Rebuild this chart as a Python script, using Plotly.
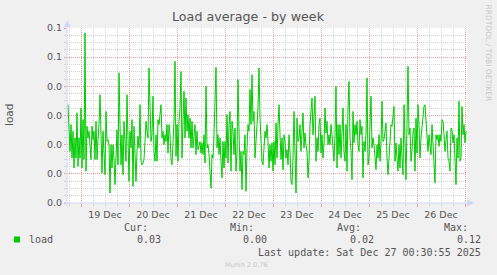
import plotly.graph_objects as go
import pandas as pd

# ---- data (load average, 30-minute samples) ----
load = [
    0.0337, 0.0269, 0.0177, 0.0269, 0.0154, 0.0246, 0.0120, 0.0223, 0.0154, 0.0309,
    0.0126, 0.0223, 0.0154, 0.0326, 0.0120, 0.0286, 0.0149, 0.0583, 0.0109, 0.0263,
    0.0223, 0.0246, 0.0200, 0.0149, 0.0263, 0.0217, 0.0246, 0.0149, 0.0280, 0.0149,
    0.0217, 0.0269, 0.0371, 0.0211, 0.0103, 0.0246, 0.0154, 0.0097, 0.0314, 0.0211,
    0.0217, 0.0200, 0.0034, 0.0200, 0.0120, 0.0200, 0.0154, 0.0063, 0.0154, 0.0251,
    0.0131, 0.0446, 0.0269, 0.0131, 0.0234, 0.0097, 0.0280, 0.0177, 0.0143, 0.0371,
    0.0234, 0.0074, 0.0246, 0.0189, 0.0286, 0.0057, 0.0263, 0.0154, 0.0074, 0.0177,
    0.0229, 0.0189, 0.0337, 0.0143, 0.0131, 0.0137, 0.0149, 0.0211, 0.0280, 0.0246,
    0.0223, 0.0463, 0.0269, 0.0211, 0.0234, 0.0366, 0.0177, 0.0143, 0.0234, 0.0143,
    0.0286, 0.0269, 0.0303, 0.0337, 0.0223, 0.0246, 0.0200, 0.0234, 0.0211, 0.0269,
    0.0171, 0.0269, 0.0234, 0.0149, 0.0131, 0.0234, 0.0280, 0.0486, 0.0160, 0.0269,
    0.0143, 0.0280, 0.0326, 0.0451, 0.0154, 0.0280, 0.0383, 0.0223, 0.0360, 0.0246,
    0.0303, 0.0223, 0.0291, 0.0189, 0.0280, 0.0189, 0.0229, 0.0269, 0.0166, 0.0246,
    0.0183, 0.0200, 0.0211, 0.0171, 0.0206, 0.0166, 0.0234, 0.0137, 0.0400, 0.0189,
    0.0200, 0.0166, 0.0120, 0.0051, 0.0166, 0.0154, 0.0234, 0.0326, 0.0465, 0.0189,
    0.0234, 0.0166, 0.0223, 0.0143, 0.0086, 0.0211, 0.0120, 0.0211, 0.0154, 0.0303,
    0.0137, 0.0269, 0.0314, 0.0109, 0.0280, 0.0246, 0.0166, 0.0257, 0.0109, 0.0177,
    0.0423, 0.0246, 0.0109, 0.0177, 0.0046, 0.0177, 0.0166, 0.0234, 0.0040, 0.0189,
    0.0269, 0.0246, 0.0389, 0.0269, 0.0440, 0.0280, 0.0314, 0.0154, 0.0234, 0.0269,
    0.0326, 0.0463, 0.0291, 0.0183, 0.0143, 0.0131, 0.0200, 0.0246, 0.0223, 0.0269,
    0.0211, 0.0120, 0.0200, 0.0143, 0.0206, 0.0109, 0.0211, 0.0131, 0.0274, 0.0154,
    0.0269, 0.0337, 0.0234, 0.0149, 0.0223, 0.0114, 0.0234, 0.0211, 0.0154, 0.0183,
    0.0131, 0.0234, 0.0177, 0.0074, 0.0063, 0.0154, 0.0314, 0.0109, 0.0034, 0.0291,
    0.0211, 0.0223, 0.0269, 0.0177, 0.0234, 0.0309, 0.0189, 0.0240, 0.0200, 0.0177,
    0.0086, 0.0143, 0.0269, 0.0303, 0.0360, 0.0234, 0.0291, 0.0366, 0.0143, 0.0223,
    0.0177, 0.0269, 0.0291, 0.0171, 0.0234, 0.0154, 0.0200, 0.0326, 0.0240, 0.0280,
    0.0200, 0.0234, 0.0200, 0.0269, 0.0234, 0.0200, 0.0143, 0.0234, 0.0400, 0.0120,
    0.0269, 0.0166, 0.0269, 0.0154, 0.0234, 0.0326, 0.0177, 0.0143, 0.0269, 0.0109,
    0.0326, 0.0417, 0.0223, 0.0177, 0.0080, 0.0314, 0.0206, 0.0269, 0.0234, 0.0280,
    0.0200, 0.0177, 0.0286, 0.0234, 0.0263, 0.0086, 0.0211, 0.0177, 0.0234, 0.0429,
    0.0131, 0.0154, 0.0269, 0.0366, 0.0189, 0.0223, 0.0200, 0.0154, 0.0114, 0.0200,
    0.0154, 0.0234, 0.0143, 0.0211, 0.0349, 0.0211, 0.0217, 0.0246, 0.0274, 0.0154,
    0.0097, 0.0154, 0.0223, 0.0269, 0.0263, 0.0314, 0.0331, 0.0143, 0.0206, 0.0154,
    0.0109, 0.0200, 0.0120, 0.0223, 0.0160, 0.0097, 0.0337, 0.0154, 0.0080, 0.0269,
    0.0469, 0.0234, 0.0257, 0.0143, 0.0177, 0.0240, 0.0257, 0.0109, 0.0291, 0.0171,
    0.0337, 0.0269, 0.0154, 0.0223, 0.0257, 0.0314, 0.0331, 0.0337, 0.0280, 0.0240,
    0.0177, 0.0234, 0.0200, 0.0166, 0.0269, 0.0189, 0.0109, 0.0069, 0.0234, 0.0217,
    0.0234, 0.0194, 0.0234, 0.0211, 0.0286, 0.0280, 0.0234, 0.0177, 0.0217, 0.0246,
    0.0154, 0.0143, 0.0109, 0.0257, 0.0251, 0.0206, 0.0234, 0.0154, 0.0063, 0.0223,
    0.0154, 0.0349, 0.0143, 0.0154, 0.0331, 0.0234, 0.0269, 0.0206, 0.0246,
]
first_sample = "2025-12-18 17:30"
times = pd.date_range(first_sample, periods=len(load), freq="30min")

x_range = ["2025-12-18 17:00", "2025-12-27 01:00"]
y_range = [0, 0.06]
y_tickvals = [0.0, 0.01, 0.02, 0.03, 0.04, 0.05, 0.06]
y_ticktext = ["0.0", "0.0", "0.0", "0.0", "0.0", "0.1", "0.1"]

series_name = "load"
stat_labels = ["Cur:", "Min:", "Avg:", "Max:"]
stat_values = ["0.03", "0.00", "0.02", "0.12"]
last_update = "Last update: Sat Dec 27 00:30:55 2025"

# ---- layout geometry (pixels) ----
W, H = 497, 275
L, R, T, B = 67, 467, 28, 203


def px(x):
    return (x - L) / (R - L)


def py(y):
    return (B - y) / (B - T)


TXT = "#555555"
AXIS = "#CFD6F8"
MGRID = "#EC9C9C"
GRID = "#D2D2D2"
GREEN = "#00CC00"
SANS = "DejaVu Sans"
MONO = "DejaVu Sans Mono"

fig = go.Figure()
fig.add_trace(go.Scatter(
    x=times, y=load, mode="lines",
    line=dict(color=GREEN, width=1),
    showlegend=False, hoverinfo="skip",
))

fig.update_layout(
    width=W, height=H,
    margin=dict(l=L, r=W - R, t=T, b=H - B, pad=0),
    paper_bgcolor="#F0F0F0", plot_bgcolor="#FFFFFF",
    showlegend=False,
    xaxis=dict(
        type="date", range=x_range, fixedrange=True,
        tick0="2025-12-19", dtick=86400000,
        tickformat="%d %b", ticklabelmode="period",
        showgrid=True, gridcolor=MGRID, griddash="1px,1px", gridwidth=1,
        ticks="outside", ticklen=3, tickcolor=MGRID, tickwidth=1,
        minor=dict(dtick=21600000, tick0="2025-12-19", showgrid=True,
                   gridcolor=GRID, griddash="1px,1px", gridwidth=1,
                   ticks="outside", ticklen=2, tickcolor=GRID),
        showline=False, zeroline=False,
        tickfont=dict(family=SANS, size=9.5, color=TXT),
    ),
    yaxis=dict(
        range=y_range, fixedrange=True,
        tickvals=y_tickvals, ticktext=y_ticktext,
        showgrid=True, gridcolor=MGRID, griddash="1px,1px", gridwidth=1,
        ticks="outside", ticklen=2, tickcolor=MGRID, tickwidth=1,
        minor=dict(dtick=0.0025, tick0=0, showgrid=True,
                   gridcolor=GRID, griddash="1px,1px", gridwidth=1,
                   ticks="outside", ticklen=2, tickcolor=GRID),
        showline=False, zeroline=False,
        tickfont=dict(family=SANS, size=9.5, color=TXT),
    ),
)

shapes = []
# axis lines
shapes.append(dict(type="line", xref="paper", yref="paper",
                   x0=px(L), x1=px(L), y0=py(206), y1=py(26),
                   line=dict(color=AXIS, width=1)))
shapes.append(dict(type="line", xref="paper", yref="paper",
                   x0=px(64), x1=px(468), y0=py(B), y1=py(B),
                   line=dict(color=AXIS, width=1)))
# arrows
shapes.append(dict(type="path", xref="paper", yref="paper",
                   path=f"M {px(64)},{py(27)} L {px(70.5)},{py(27)} L {px(67.2)},{py(20)} Z",
                   fillcolor=AXIS, line=dict(color=AXIS, width=0)))
shapes.append(dict(type="path", xref="paper", yref="paper",
                   path=f"M {px(467)},{py(199.5)} L {px(467)},{py(206.5)} L {px(474)},{py(203)} Z",
                   fillcolor=AXIS, line=dict(color=AXIS, width=0)))
# legend swatch
shapes.append(dict(type="rect", xref="paper", yref="paper",
                   x0=px(14), x1=px(20), y0=py(242.5), y1=py(236.5),
                   fillcolor=GREEN, line=dict(width=0)))
fig.update_layout(shapes=shapes)

ann = []


def text(t, x, y, xanchor="left", size=10, family=MONO, color=TXT, angle=0):
    ann.append(dict(text=t, x=px(x), y=py(y), xref="paper", yref="paper",
                    xanchor=xanchor, yanchor="middle", showarrow=False,
                    textangle=angle, font=dict(family=family, size=size, color=color)))


text("Load average - by week", 248, 17, xanchor="center", size=12.7, family=SANS)
text("load", 9, 115, xanchor="center", size=10.5, family=SANS, angle=-90)
text("RRDTOOL / TOBI OETIKER", 488.5, 53, xanchor="center", size=7.5,
     family=SANS, color="#C8C8C8", angle=90)
text(series_name, 27, 239.5)
stat_right = [150, 256, 363, 470]
for lab, val, xr in zip(stat_labels, stat_values, stat_right):
    text(lab, xr, 227.5, xanchor="right")
    text(val, xr + 12.5, 239.5, xanchor="right")
text(last_update, 482.5, 252, xanchor="right")
text("Munin 2.0.76", 223, 264.5, size=6.5, family=SANS, color="#C8C8C8")
fig.update_layout(annotations=ann)

fig.write_html("out.html")
